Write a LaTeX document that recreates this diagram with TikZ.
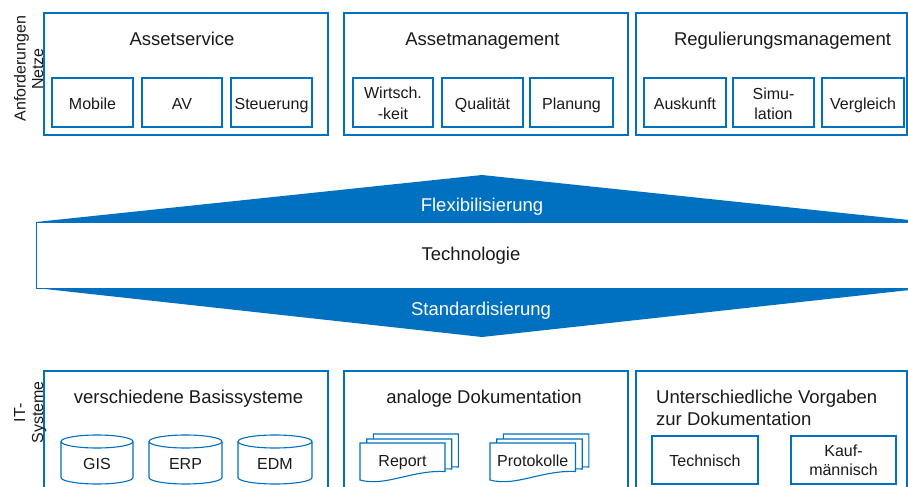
\documentclass[tikz,border=0pt]{standalone}
\usepackage{fontspec}
\setmainfont{Liberation Sans}
\definecolor{blu}{RGB}{0,112,192}
\definecolor{txt}{RGB}{26,26,26}
% document shape: L, T, W, right height, left height
\newcommand\mydocshape[5]{%
  \draw[docl] (#1,#2) -- ({#1+#3},#2) -- ({#1+#3},{#2+#4})
    .. controls ({#1+0.6*#3},{#2+#4-1.5}) and ({#1+0.3*#3},{#2+#5+7}) .. (#1,{#2+#5}) -- cycle;}
% cylinder: L, R
\newcommand\mycylshape[2]{%
  \draw[cyl] (#1,441.5) -- (#1,477.5) arc[start angle=180,end angle=0,x radius={(#2-#1)/2},y radius=6.5] -- (#2,441.5);
  \draw[cyl] ({(#1+#2)/2},441.5) ellipse[x radius={(#2-#1)/2},y radius=6.5];}
\begin{document}
\begin{tikzpicture}[x=1pt,y=-1pt,
  obox/.style={draw=blu,line width=1.2pt,fill=white,inner sep=0pt,rectangle},
  sbox/.style={draw=blu,line width=1.2pt,fill=white,inner sep=0pt,rectangle,minimum height=49pt},
  big/.style={font=\fontsize{18.5}{22}\selectfont,text=txt,inner sep=0pt,anchor=base},
  small/.style={font=\fontsize{16}{20}\selectfont,text=txt,inner sep=0pt,anchor=base},
  side/.style={small,rotate=90},
  docl/.style={draw=blu,line width=1.1pt,fill=white},
  cyl/.style={draw=blu,line width=1.1pt,fill=white},
]
\useasboundingbox (0,0) rectangle (908,487);
\clip (0,0) rectangle (908,487);

% ---------- top row ----------
\node[obox,minimum width=284pt,minimum height=122pt] (asvc) at (186,74) {};
\node[obox,minimum width=284pt,minimum height=122pt] (amgmt) at (486,74) {};
\node[obox,minimum width=271pt,minimum height=122pt] (rmgmt) at (771.5,74) {};

\node[big] (t1) at (182,46) {Assetservice};
\node[big] (t2) at (482.5,46) {Assetmanagement};
\node[big] (t3) at (782.5,46) {Regulierungsmanagement};

\node[sbox,minimum width=81pt] (mob) at (92.5,102.5) {};
\node[sbox,minimum width=80pt] (av) at (182,102.5) {};
\node[sbox,minimum width=81pt] (steu) at (271.5,102.5) {};
\node[sbox,minimum width=80pt] (wirt) at (393,102.5) {};
\node[sbox,minimum width=81pt] (qual) at (482.5,102.5) {};
\node[sbox,minimum width=83pt] (plan) at (571.5,102.5) {};
\node[sbox,minimum width=82pt] (ausk) at (685,102.5) {};
\node[sbox,minimum width=81pt] (simu) at (773.5,102.5) {};
\node[sbox,minimum width=82pt] (vergl) at (863,102.5) {};

\node[small] (mobt) at (92.5,109.3) {Mobile};
\node[small] (avt) at (182,109.3) {AV};
\node[small] (steut) at (271.5,109.3) {Steuerung};
\node[small] (wirta) at (393,98.5) {Wirtsch.};
\node[small] (wirtb) at (393,119.3) {-keit};
\node[small] (qualt) at (482.5,109.3) {Qualität};
\node[small] (plant) at (571.5,109.3) {Planung};
\node[small] (auskt) at (685,109.3) {Auskunft};
\node[small] (simua) at (773.5,99.3) {Simu-};
\node[small] (simub) at (773.5,119.3) {lation};
\node[small] (verglt) at (863,109.3) {Vergleich};

\node[side] (anf) at (25.5,68.5) {Anforderungen};
\node[side] (netze) at (43,69) {Netze};

% ---------- middle band ----------
\fill[blu] (36,222) -- (482,175) -- (928,222) -- cycle;
\fill[blu] (36,288) -- (928,288) -- (482,337) -- cycle;
\node[draw=blu,fill=white,line width=1pt,inner sep=0pt,minimum width=892pt,minimum height=66pt] (tech) at (482,255) {};
\node[big,text=white] (flex) at (482,211) {Flexibilisierung};
\node[big] (techt) at (471,260) {Technologie};
\node[big,text=white] (std) at (481,315) {Standardisierung};

% ---------- bottom row ----------
\node[obox,minimum width=284pt,minimum height=129pt] (bas) at (186,435.5) {};
\node[obox,minimum width=284pt,minimum height=129pt] (ana) at (486,435.5) {};
\node[obox,minimum width=271pt,minimum height=129pt] (vorg) at (771.5,435.5) {};

\node[big] (b1) at (188.5,403) {verschiedene Basissysteme};
\node[big] (b2) at (484,403) {analoge Dokumentation};
\node[big,anchor=base west] (b3a) at (656,403) {Unterschiedliche Vorgaben};
\node[big,anchor=base west] (b3b) at (656,425) {zur Dokumentation};

\node[side] (it) at (25,413) {IT-};
\node[side] (syst) at (43,412.5) {Systeme};

\mycylshape{61}{133}
\mycylshape{149}{222}
\mycylshape{238}{312}
\node[small] (gis) at (97,469) {GIS};
\node[small] (erp) at (185.5,469) {ERP};
\node[small] (edm) at (275,469) {EDM};

\mydocshape{373.3}{434}{85}{33}{37}
\mydocshape{366.7}{439}{85}{30}{37}
\mydocshape{360}{443}{85}{28.5}{37}
\node[small] (rep) at (402.5,466) {Report};

\mydocshape{503.3}{434}{85.5}{33}{37}
\mydocshape{496.7}{439}{85.5}{30}{37}
\mydocshape{490}{443}{85.5}{28.5}{37}
\node[small] (prot) at (532.75,466) {Protokolle};

\node[sbox,minimum width=106pt,minimum height=48pt] (techn) at (705,460) {};
\node[sbox,minimum width=105pt,minimum height=48pt] (kauf) at (843.5,460) {};
\node[small] (techntxt) at (705,466) {Technisch};
\node[small] (kaufa) at (843.5,456) {Kauf-};
\node[small] (kaufb) at (843.5,475.5) {männisch};
\end{tikzpicture}
\end{document}
